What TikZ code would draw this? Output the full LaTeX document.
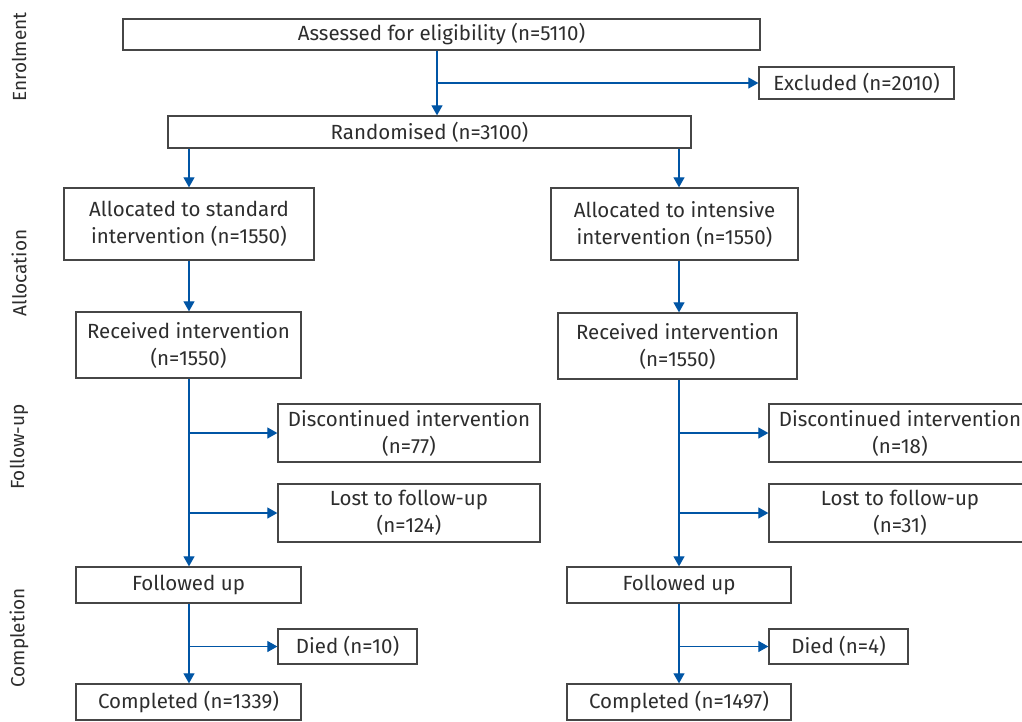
\documentclass[tikz,border=0pt]{standalone}
\usepackage{fontspec}
\setmainfont{Fira Sans}
\usetikzlibrary{arrows.meta}
\definecolor{arrblue}{RGB}{0,85,165}
\definecolor{boxgray}{RGB}{70,70,70}
\definecolor{txtgray}{RGB}{45,45,45}
\begin{document}
\begin{tikzpicture}[x=1pt,y=-1pt,
  box/.style={draw=boxgray,line width=1.3pt,inner sep=0pt,align=center,text=txtgray,
    font=\fontsize{20.5}{27}\selectfont},
  lbl/.style={rotate=90,text=txtgray,font=\fontsize{19}{22}\selectfont,inner sep=0pt},
  arr/.style={draw=arrblue,line width=1.1pt,-{Triangle[length=10pt,width=11pt]}},
  ln/.style={draw=arrblue,line width=1.1pt}]
\useasboundingbox (0,0) rectangle (1022,721);
\clip (0,0) rectangle (1022,721);
% phase labels
\node[lbl] (lenr) at (19,57) {Enrolment};
\node[lbl] (lall) at (19,273) {Allocation};
\node[lbl] (lfol) at (19,447) {Follow-up};
\node[lbl] (lcom) at (19,638) {Completion};
% boxes
\node[box,minimum width=637,minimum height=31] (assess) at (441.5,34.5) {Assessed for eligibility (n=5110)};
\node[box,minimum width=195,minimum height=32] (excl) at (856.5,83) {Excluded (n=2010)};
\node[box,minimum width=523,minimum height=32] (rand) at (429.5,132) {Randomised (n=3100)};
\node[box,minimum width=250,minimum height=72] (allocS) at (189,224) {Allocated to standard\\intervention (n=1550)};
\node[box,minimum width=247,minimum height=72] (allocI) at (674.5,224) {Allocated to intensive\\intervention (n=1550)};
\node[box,minimum width=225,minimum height=66] (recS) at (188.5,345) {Received intervention\\(n=1550)};
\node[box,minimum width=239,minimum height=66] (recI) at (677.5,346) {Received intervention\\(n=1550)};
\node[box,minimum width=262,minimum height=58] (discS) at (409,433) {Discontinued intervention\\(n=77)};
\node[box,minimum width=262,minimum height=58] (lostS) at (409,513) {Lost to follow-up\\(n=124)};
\node[box,minimum width=262,minimum height=58] (discI) at (900,433) {Discontinued intervention\\(n=18)};
\node[box,minimum width=262,minimum height=58] (lostI) at (900,513) {Lost to follow-up\\(n=31)};
\node[box,minimum width=225,minimum height=36] (fuS) at (188.5,585) {Followed up};
\node[box,minimum width=224,minimum height=36] (fuI) at (679,585) {Followed up};
\node[box,minimum width=139,minimum height=35] (diedS) at (347.5,646.5) {Died (n=10)};
\node[box,minimum width=139,minimum height=35] (diedI) at (838.5,646.5) {Died (n=4)};
\node[box,minimum width=225,minimum height=36] (compS) at (188.5,702) {Completed (n=1339)};
\node[box,minimum width=224,minimum height=36] (compI) at (679,702) {Completed (n=1497)};
% column guides
\coordinate (cA) at (437,0);
\coordinate (cL) at (189,0);
\coordinate (cR) at (679,0);
% connectors
\draw[arr] (assess.south -| cA) -- (rand.north -| cA);
\draw[arr] (excl.west -| cA) -- (excl.west);
\draw[arr] (rand.south -| cL) -- (allocS.north -| cL);
\draw[arr] (rand.south -| cR) -- (allocI.north -| cR);
\draw[arr] (allocS.south -| cL) -- (recS.north -| cL);
\draw[arr] (allocI.south -| cR) -- (recI.north -| cR);
\draw[arr] (recS.south -| cL) -- (fuS.north -| cL);
\draw[arr] (recI.south -| cR) -- (fuI.north -| cR);
\draw[arr] (discS.west -| cL) -- (discS.west);
\draw[arr] (lostS.west -| cL) -- (lostS.west);
\draw[arr] (discI.west -| cR) -- (discI.west);
\draw[arr] (lostI.west -| cR) -- (lostI.west);
\draw[arr] (fuS.south -| cL) -- (compS.north -| cL);
\draw[arr] (fuI.south -| cR) -- (compI.north -| cR);
\draw[arr] (diedS.west -| cL) -- (diedS.west);
\draw[arr] (diedI.west -| cR) -- (diedI.west);
\end{tikzpicture}
\end{document}
